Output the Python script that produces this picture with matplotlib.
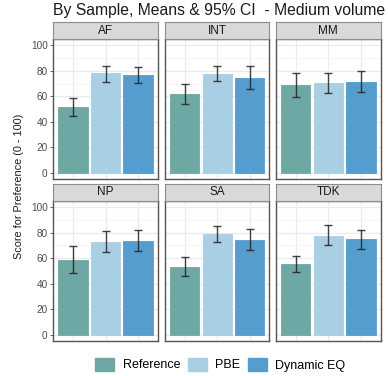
import matplotlib
matplotlib.use("Agg")
import matplotlib.pyplot as plt
from matplotlib.patches import Patch
from matplotlib.ticker import MultipleLocator

plt.rcParams['font.family'] = ['Liberation Sans', 'DejaVu Sans']

samples = ["AF", "INT", "MM", "NP", "SA", "TDK"]
conditions = ["Reference", "PBE", "Dynamic EQ"]
colors = ["#6DA8A5", "#A9CFE5", "#559CCF"]

mean_reference = [51.3, 61.5, 68.8, 58.6, 53.4, 55.5]
lower_reference = [44.3, 53.8, 59.4, 48.2, 46.3, 49.0]
upper_reference = [58.6, 69.4, 78.4, 69.4, 60.8, 62.0]

mean_pbe = [77.9, 77.3, 70.3, 72.8, 78.5, 77.7]
lower_pbe = [71.6, 71.9, 62.2, 64.7, 72.8, 70.2]
upper_pbe = [84.1, 83.8, 78.6, 80.9, 84.8, 85.9]

mean_deq = [76.6, 74.5, 71.6, 73.5, 74.3, 74.9]
lower_deq = [70.3, 65.9, 63.3, 65.5, 66.2, 67.3]
upper_deq = [82.8, 83.8, 80.2, 82.4, 82.7, 82.4]

y_ticks = [0, 20, 40, 60, 80, 100]

means = [mean_reference, mean_pbe, mean_deq]
lowers = [lower_reference, lower_pbe, lower_deq]
uppers = [upper_reference, upper_pbe, upper_deq]

W, H = 388, 376
fig = plt.figure(figsize=(W / 100, H / 100), dpi=100)


def rect(x0, x1, yt, yb):
    return [x0 / W, 1 - yb / H, (x1 - x0) / W, (yb - yt) / H]


cols = [(53.3, 157.7), (165.3, 269.0), (276.0, 380.7)]
rows = [(22.0, 39.0, 179.0), (184.0, 200.7, 341.0)]

for i, s in enumerate(samples):
    r, c = divmod(i, 3)
    x0, x1 = cols[c]
    st, sb, pb = rows[r]
    ax = fig.add_axes(rect(x0, x1, sb, pb))
    ax.set_facecolor("white")
    xs = [1, 2, 3]
    for k in range(3):
        m = means[k][i]
        lo = lowers[k][i]
        hi = uppers[k][i]
        ax.bar(xs[k], m, width=0.9, color=colors[k], edgecolor=colors[k],
               linewidth=0.6, zorder=2)
        ax.errorbar(xs[k], m, yerr=[[m - lo], [hi - m]], fmt='none',
                    ecolor="#222222", elinewidth=1.0, capsize=2.8,
                    capthick=1.0, alpha=0.85, zorder=3)
    ax.set_xlim(0.4, 3.6)
    ax.set_ylim(-5, 105)
    ax.set_yticks(y_ticks)
    ax.yaxis.set_minor_locator(MultipleLocator(10))
    ax.set_xticks(xs)
    ax.grid(True, which='major', color="#EBEBEB", linewidth=0.9, zorder=0)
    ax.grid(True, which='minor', axis='y', color="#F2F2F2", linewidth=0.5, zorder=0)
    ax.set_axisbelow(True)
    ax.tick_params(axis='x', length=0, labelbottom=False)
    ax.tick_params(axis='y', which='minor', length=0)
    if c == 0:
        ax.tick_params(axis='y', which='major', length=2.5, width=0.6,
                       color="#4D4D4D", labelsize=7.2, labelcolor="#4D4D4D", pad=1.5)
    else:
        ax.tick_params(axis='y', which='major', length=0, labelleft=False)
    for sp in ax.spines.values():
        sp.set_color("#555555")
        sp.set_linewidth(1.0)
    # strip
    sax = fig.add_axes(rect(x0, x1, st, sb))
    sax.set_facecolor("#D9D9D9")
    sax.set_xticks([])
    sax.set_yticks([])
    for sp in sax.spines.values():
        sp.set_color("#8C8C8C")
        sp.set_linewidth(0.8)
    sax.text(0.5, 0.5, s, transform=sax.transAxes, ha='center', va='center',
             fontsize=8.5, color="#1A1A1A")

fig.text(53 / W, 1 - 15.5 / H, "By Sample, Means & 95% CI  - Medium volume",
         ha='left', va='baseline', fontsize=11.3, color="#1A1A1A")

fig.text(19 / W, 1 - 186 / H, "Score for Preference (0 - 100)", rotation=90,
         ha='center', va='center', fontsize=7.8, color="#1A1A1A")

handles = [Patch(facecolor=colors[k], edgecolor=colors[k]) for k in range(3)]
fig.legend(handles, conditions, loc='center', bbox_to_anchor=(220.5 / W, 1 - 364.5 / H),
           ncol=3, frameon=False, fontsize=9.0, handlelength=1.5, handleheight=1.3,
           handletextpad=0.7, columnspacing=0.6, borderpad=0.0)

fig.savefig("out.png", dpi=100)
